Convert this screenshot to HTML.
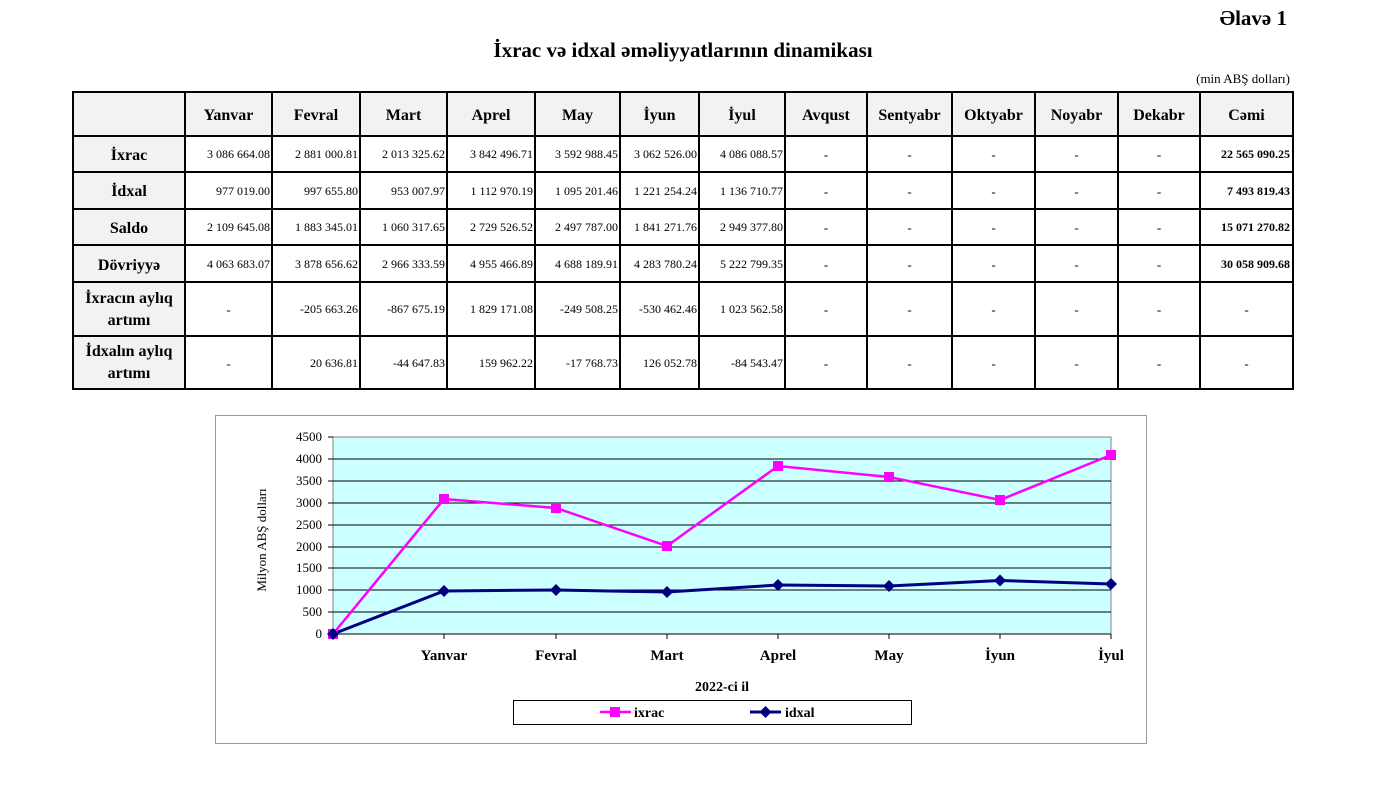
<!DOCTYPE html>
<html><head><meta charset="utf-8"><style>
body{margin:0;background:#fff;}
svg{display:block;font-family:"Liberation Serif",serif;}
.h{font-weight:bold;font-size:16px;text-anchor:middle;}
.n{font-size:12px;text-anchor:end;}
.d{font-size:13px;text-anchor:middle;}
.b{font-size:12px;font-weight:bold;text-anchor:end;}
</style></head><body>
<svg width="1376" height="803" viewBox="0 0 1376 803">
<text x="1287" y="25" font-size="21" font-weight="bold" text-anchor="end">Əlavə 1</text>
<text x="683" y="57" font-size="21" font-weight="bold" text-anchor="middle">İxrac və idxal əməliyyatlarının dinamikası</text>
<text x="1290" y="83" font-size="13" text-anchor="end">(min ABŞ dolları)</text>
<rect x="73" y="92" width="1220" height="44" fill="#f2f2f2"/>
<rect x="73" y="136" width="112" height="253" fill="#f2f2f2"/>
<g stroke="#000" stroke-width="2" fill="none">
<rect x="73" y="92" width="1220" height="297"/>
<path d="M73 136H1293M73 172H1293M73 209H1293M73 245H1293M73 282H1293M73 336H1293"/>
<path d="M185 92V389M272 92V389M360 92V389M447 92V389M535 92V389M620 92V389M699 92V389M785 92V389M867 92V389M952 92V389M1035 92V389M1118 92V389M1200 92V389"/>
</g>
<g class="h">
<text x="228.5" y="120">Yanvar</text><text x="316" y="120">Fevral</text><text x="403.5" y="120">Mart</text><text x="491" y="120">Aprel</text><text x="577.5" y="120">May</text><text x="659.5" y="120">İyun</text><text x="742" y="120">İyul</text><text x="826" y="120">Avqust</text><text x="909.5" y="120">Sentyabr</text><text x="993.5" y="120">Oktyabr</text><text x="1076.5" y="120">Noyabr</text><text x="1159" y="120">Dekabr</text><text x="1246.5" y="120">Cəmi</text>
<text x="129" y="160">İxrac</text><text x="129" y="196">İdxal</text><text x="129" y="233">Saldo</text><text x="129" y="270">Dövriyyə</text>
<text x="129" y="303">İxracın aylıq</text><text x="129" y="325">artımı</text>
<text x="129" y="356">İdxalın aylıq</text><text x="129" y="378">artımı</text>
</g>
<g class="n">
<text x="270" y="158">3 086 664.08</text><text x="358" y="158">2 881 000.81</text><text x="445" y="158">2 013 325.62</text><text x="533" y="158">3 842 496.71</text><text x="618" y="158">3 592 988.45</text><text x="697" y="158">3 062 526.00</text><text x="783" y="158">4 086 088.57</text>
<text x="270" y="195">977 019.00</text><text x="358" y="195">997 655.80</text><text x="445" y="195">953 007.97</text><text x="533" y="195">1 112 970.19</text><text x="618" y="195">1 095 201.46</text><text x="697" y="195">1 221 254.24</text><text x="783" y="195">1 136 710.77</text>
<text x="270" y="231">2 109 645.08</text><text x="358" y="231">1 883 345.01</text><text x="445" y="231">1 060 317.65</text><text x="533" y="231">2 729 526.52</text><text x="618" y="231">2 497 787.00</text><text x="697" y="231">1 841 271.76</text><text x="783" y="231">2 949 377.80</text>
<text x="270" y="268">4 063 683.07</text><text x="358" y="268">3 878 656.62</text><text x="445" y="268">2 966 333.59</text><text x="533" y="268">4 955 466.89</text><text x="618" y="268">4 688 189.91</text><text x="697" y="268">4 283 780.24</text><text x="783" y="268">5 222 799.35</text>
<text x="358" y="313">-205 663.26</text><text x="445" y="313">-867 675.19</text><text x="533" y="313">1 829 171.08</text><text x="618" y="313">-249 508.25</text><text x="697" y="313">-530 462.46</text><text x="783" y="313">1 023 562.58</text>
<text x="358" y="367">20 636.81</text><text x="445" y="367">-44 647.83</text><text x="533" y="367">159 962.22</text><text x="618" y="367">-17 768.73</text><text x="697" y="367">126 052.78</text><text x="783" y="367">-84 543.47</text>
</g>
<g class="b">
<text x="1290" y="158">22 565 090.25</text><text x="1290" y="195">7 493 819.43</text><text x="1290" y="231">15 071 270.82</text><text x="1290" y="268">30 058 909.68</text>
</g>
<g class="d">
<text x="826" y="159">-</text><text x="909.5" y="159">-</text><text x="993.5" y="159">-</text><text x="1076.5" y="159">-</text><text x="1159" y="159">-</text>
<text x="826" y="196">-</text><text x="909.5" y="196">-</text><text x="993.5" y="196">-</text><text x="1076.5" y="196">-</text><text x="1159" y="196">-</text>
<text x="826" y="232">-</text><text x="909.5" y="232">-</text><text x="993.5" y="232">-</text><text x="1076.5" y="232">-</text><text x="1159" y="232">-</text>
<text x="826" y="269">-</text><text x="909.5" y="269">-</text><text x="993.5" y="269">-</text><text x="1076.5" y="269">-</text><text x="1159" y="269">-</text>
<text x="228.5" y="314">-</text><text x="826" y="314">-</text><text x="909.5" y="314">-</text><text x="993.5" y="314">-</text><text x="1076.5" y="314">-</text><text x="1159" y="314">-</text><text x="1246.5" y="314">-</text>
<text x="228.5" y="368">-</text><text x="826" y="368">-</text><text x="909.5" y="368">-</text><text x="993.5" y="368">-</text><text x="1076.5" y="368">-</text><text x="1159" y="368">-</text><text x="1246.5" y="368">-</text>
</g>
<!-- chart -->
<rect x="215.5" y="415.5" width="931" height="328" fill="#fff" stroke="#999"/>
<rect x="333" y="437" width="778" height="197" fill="#ccffff" stroke="#808080"/>
<g stroke="#000" stroke-width="1">
<path d="M333 459H1111M333 481H1111M333 503H1111M333 525H1111M333 547H1111M333 568H1111M333 590H1111M333 612H1111"/>
<path d="M333 634H1111M328 437H333M328 459H333M328 481H333M328 503H333M328 525H333M328 547H333M328 568H333M328 590H333M328 612H333M328 634H333"/>
<path d="M444 634V639M556 634V639M667 634V639M778 634V639M889 634V639M1000 634V639M1111 634V639"/>
</g>
<g font-size="13" text-anchor="end">
<text x="322" y="441">4500</text><text x="322" y="463">4000</text><text x="322" y="485">3500</text><text x="322" y="507">3000</text><text x="322" y="529">2500</text><text x="322" y="551">2000</text><text x="322" y="572">1500</text><text x="322" y="594">1000</text><text x="322" y="616">500</text><text x="322" y="638">0</text>
</g>
<text transform="translate(266 540) rotate(-90)" font-size="13" text-anchor="middle">Milyon ABŞ dolları</text>
<g class="h" font-size="15" style="font-size:15px">
<text x="444" y="660">Yanvar</text><text x="556" y="660">Fevral</text><text x="667" y="660">Mart</text><text x="778" y="660">Aprel</text><text x="889" y="660">May</text><text x="1000" y="660">İyun</text><text x="1111" y="660">İyul</text>
</g>
<text x="722" y="691" font-size="14" font-weight="bold" text-anchor="middle">2022-ci il</text>
<polyline points="333,634 444,591 556,590 667,592 778,585 889,586 1000,580.5 1111,584" fill="none" stroke="#000080" stroke-width="3"/>
<polyline points="333,634 444,499 556,508 667,546 778,466 889,477 1000,500 1111,455" fill="none" stroke="#ff00ff" stroke-width="2.5"/>
<g fill="#ff00ff">
<rect x="328" y="629" width="10" height="10"/><rect x="439" y="494" width="10" height="10"/><rect x="551" y="503" width="10" height="10"/><rect x="662" y="541" width="10" height="10"/><rect x="773" y="461" width="10" height="10"/><rect x="884" y="472" width="10" height="10"/><rect x="995" y="495" width="10" height="10"/><rect x="1106" y="450" width="10" height="10"/>
</g>
<g fill="#000080">
<path d="M333 628l6 6-6 6-6-6z"/><path d="M444 585l6 6-6 6-6-6z"/><path d="M556 584l6 6-6 6-6-6z"/><path d="M667 586l6 6-6 6-6-6z"/><path d="M778 579l6 6-6 6-6-6z"/><path d="M889 580l6 6-6 6-6-6z"/><path d="M1000 574.5l6 6-6 6-6-6z"/><path d="M1111 578l6 6-6 6-6-6z"/>
</g>
<rect x="513.5" y="700.5" width="398" height="24" fill="#fff" stroke="#000"/>
<path d="M600 712H631" stroke="#ff00ff" stroke-width="2.5"/><rect x="610" y="707" width="10" height="10" fill="#ff00ff"/>
<text x="634" y="717" font-size="14" font-weight="bold">ixrac</text>
<path d="M750 712H781" stroke="#000080" stroke-width="3"/><path d="M765.5 706l6 6-6 6-6-6z" fill="#000080"/>
<text x="785" y="717" font-size="14" font-weight="bold">idxal</text>
</svg>
</body></html>
